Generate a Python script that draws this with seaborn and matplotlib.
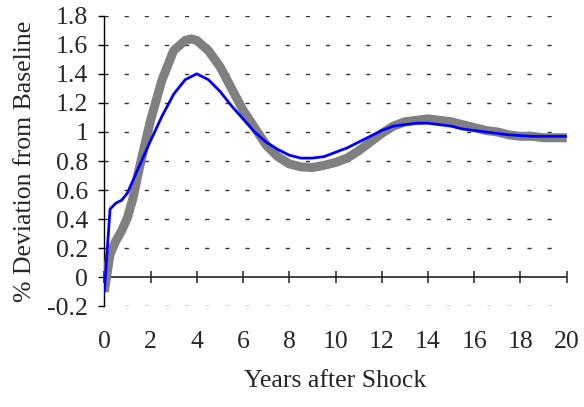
import numpy as np
import matplotlib
matplotlib.use("Agg")
import matplotlib.pyplot as plt
from matplotlib.ticker import FixedLocator, FuncFormatter
import seaborn as sns
import pandas as pd

# data
years_blue = [0, 0.25, 0.5, 0.75, 1, 1.5, 2, 2.5, 3, 3.5, 4, 4.5, 5, 5.5, 6, 6.5,
              7, 7.5, 8, 8.5, 9, 9.5, 10, 10.5, 11, 11.5, 12, 12.5, 13, 13.5,
              14, 14.5, 15, 15.5, 16, 16.5, 17, 17.5, 18, 18.5, 19, 19.5, 20]
blue_vals = [-0.1, 0.47, 0.51, 0.53, 0.58, 0.76, 0.94, 1.11, 1.26, 1.36, 1.40, 1.36,
             1.28, 1.18, 1.09, 1.00, 0.93, 0.88, 0.84, 0.82, 0.82, 0.83, 0.86, 0.89,
             0.93, 0.97, 1.01, 1.04, 1.05, 1.06, 1.06, 1.05, 1.04, 1.02, 1.01, 1.00,
             0.99, 0.98, 0.975, 0.97, 0.97, 0.97, 0.97]

years_gray = [0, 0.25, 0.5, 0.75, 1, 1.25, 1.5, 2, 2.5, 3, 3.5, 3.75, 4, 4.5, 5, 5.5,
              6, 6.5, 7, 7.5, 8, 8.5, 9, 9.5, 10, 10.5, 11, 11.5, 12, 12.5, 13,
              13.5, 14, 14.5, 15, 15.5, 16, 16.5, 17, 17.5, 18, 18.5, 19, 19.5, 20]
gray_vals = [-0.1, 0.16, 0.25, 0.32, 0.41, 0.55, 0.74, 1.08, 1.36, 1.56, 1.63, 1.64,
             1.63, 1.56, 1.45, 1.30, 1.15, 1.03, 0.91, 0.83, 0.78, 0.76, 0.755, 0.77,
             0.79, 0.82, 0.87, 0.93, 0.99, 1.04, 1.07, 1.08, 1.09, 1.08, 1.07, 1.05,
             1.03, 1.01, 1.00, 0.98, 0.97, 0.97, 0.96, 0.96, 0.96]

x_ticks = [0, 2, 4, 6, 8, 10, 12, 14, 16, 18, 20]
y_ticks = [-0.2, 0, 0.2, 0.4, 0.6, 0.8, 1, 1.2, 1.4, 1.6, 1.8]

sns.set_style("white")
plt.rcParams['font.family'] = ['Liberation Serif', 'DejaVu Serif']

fig = plt.figure(figsize=(5.84, 4.07), dpi=100)
ax = fig.add_axes([0.1786, 0.2474, 0.7918, 0.714])

# dashed grid lines, the zero line is the solid x axis
for v in y_ticks:
    if v != 0:
        ax.axhline(v, color="#333333", lw=1, dashes=(3, 11.5), zorder=1)
ax.axhline(0, color="#222222", lw=1.2, zorder=2)
ax.plot(x_ticks, [0] * len(x_ticks), ls="none", marker="|", ms=8, mew=1.1,
        color="#222222", zorder=2, clip_on=False)

df_gray = pd.DataFrame({"t": years_gray, "v": gray_vals})
df_blue = pd.DataFrame({"t": years_blue, "v": blue_vals})
sns.lineplot(data=df_gray, x="t", y="v", ax=ax, color="#808080", lw=6.5,
             solid_capstyle="butt", zorder=3)
sns.lineplot(data=df_blue, x="t", y="v", ax=ax, color="#0000FF", lw=2,
             zorder=4)

ax.set_xlim(0, 20)
ax.set_ylim(-0.2, 1.8)

for s in ["top", "right", "bottom"]:
    ax.spines[s].set_visible(False)
ax.spines["left"].set_color("black")
ax.spines["left"].set_linewidth(1)

ax.yaxis.set_major_locator(FixedLocator(y_ticks))
ax.yaxis.set_major_formatter(FuncFormatter(lambda v, p: f"{v:g}"))
ax.tick_params(axis="y", left=True, direction="out", length=4.5, width=1,
               pad=7, labelsize=18.5, color="black")

ax.xaxis.set_major_locator(FixedLocator(x_ticks))
ax.xaxis.set_major_formatter(FuncFormatter(lambda v, p: f"{v:g}"))
ax.tick_params(axis="x", bottom=False, length=0, pad=18, labelsize=18.5)

ax.set_xlabel("Years after Shock", fontsize=18.5, labelpad=12)
ax.set_ylabel("% Deviation from Baseline", fontsize=18.5, labelpad=8)

fig.savefig("out.png", dpi=100)
